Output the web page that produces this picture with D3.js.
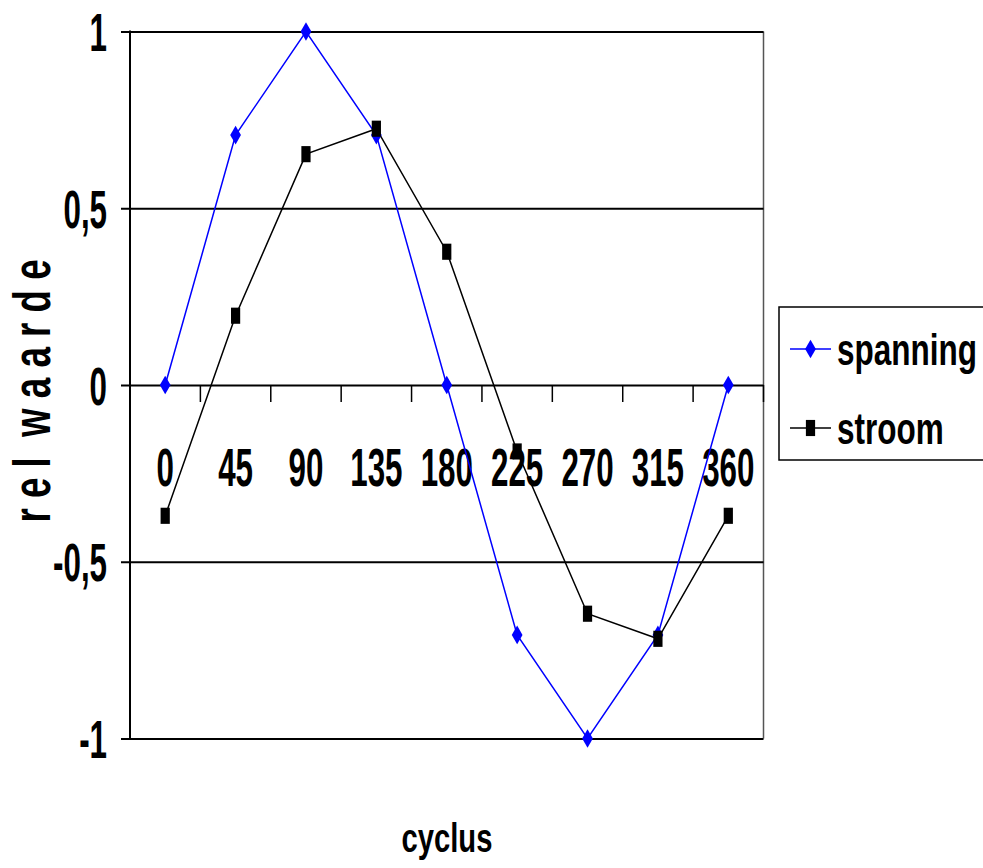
<!DOCTYPE html>
<html>
<head>
<meta charset="utf-8">
<script src="https://cdn.jsdelivr.net/npm/d3@7"></script>
<style>
  html, body { margin: 0; padding: 0; background: #fff; }
  svg { display: block; }
  text { font-family: "Liberation Sans", Arial, sans-serif; font-weight: bold; fill: #000; white-space: pre; }
</style>
</head>
<body>
<svg id="chart" width="983" height="868"></svg>
<script>
// Phase angle categories (degrees over one cycle)
const categories = ["0", "45", "90", "135", "180", "225", "270", "315", "360"];
// Relative voltage (spanning) and current (stroom)
const spanning = [0, 0.707, 1, 0.707, 0, -0.707, -1, -0.707, 0];
const stroom = [-0.37, 0.196, 0.653, 0.725, 0.377, -0.188, -0.647, -0.718, -0.37];
// Value axis ticks and their labels
const yTicks = [-1, -0.5, 0, 0.5, 1];
const yTickLabels = ["-1", "-0,5", "0", "0,5", "1"];
const seriesNames = ["spanning", "stroom"];

const svg = d3.select("#chart");
const plot = { left: 130, right: 763.5, top: 31.5, bottom: 738.5 };

const x = d3.scaleBand().domain(categories).range([plot.left, plot.right]);
const y = d3.scaleLinear().domain([-1, 1]).range([plot.bottom, plot.top]);
const cx = c => x(c) + x.bandwidth() / 2;

// Condensed bold text helper (horizontal squeeze)
function label(g, tx, ty, str, size, sx, anchor, rotate) {
  const grp = g.append("g")
    .attr("transform", `translate(${tx},${ty})` + (rotate ? ` rotate(${rotate})` : "") + ` scale(${sx},1)`);
  grp.append("text")
    .attr("text-anchor", anchor)
    .attr("font-size", size)
    .text(str);
  return grp;
}

// Plot frame: thin right border
svg.append("line")
  .attr("x1", plot.right).attr("x2", plot.right)
  .attr("y1", plot.top).attr("y2", plot.bottom)
  .attr("stroke", "#555").attr("stroke-width", 1.5);

// Horizontal gridlines with left tick marks
const yAxis = d3.axisLeft(y).tickValues(yTicks).tickSize(-(plot.right - plot.left)).tickFormat("");
const yg = svg.append("g").attr("transform", `translate(${plot.left},0)`).call(yAxis);
yg.select(".domain").remove();
yg.selectAll(".tick line").attr("stroke", "#000").attr("stroke-width", 2).attr("x1", -9);

// Value axis line
svg.append("line")
  .attr("x1", plot.left).attr("x2", plot.left)
  .attr("y1", plot.top - 1).attr("y2", plot.bottom + 1)
  .attr("stroke", "#000").attr("stroke-width", 2);

// Category axis at zero with tick marks between categories
const boundaries = categories.map(c => x(c)).concat([plot.right]);
svg.append("g").selectAll("line").data(boundaries.slice(1)).join("line")
  .attr("x1", d => d).attr("x2", d => d)
  .attr("y1", y(0)).attr("y2", y(0) + 17)
  .attr("stroke", "#000").attr("stroke-width", 1.5);

// Value tick labels
yTicks.forEach((v, i) => {
  label(svg, 107, y(v) + 19.5, yTickLabels[i], 54, 0.58, "end");
});

// Category labels
categories.forEach(c => {
  label(svg, cx(c), 486, c, 54, 0.58, "middle");
});

// Axis titles
label(svg, 447, 852, "cyclus", 40, 0.73, "middle");
label(svg, 50, 391, "r e l  w a a r d e", 51, 0.72, "middle", -90);

// Series
const line = d3.line().x((d, i) => cx(categories[i])).y(d => y(d));
const series = [
  { name: seriesNames[0], values: spanning, color: "#0000ff", symbol: d3.symbolDiamond, size: 100, sy: 1 },
  { name: seriesNames[1], values: stroom, color: "#000000", symbol: d3.symbolSquare, size: 85, sy: 1.75 }
];

series.forEach(s => {
  svg.append("path")
    .attr("d", line(s.values))
    .attr("fill", "none")
    .attr("stroke", s.color)
    .attr("stroke-width", 1.5);
});
series.forEach(s => {
  svg.append("g").selectAll("path").data(s.values).join("path")
    .attr("d", d3.symbol(s.symbol, s.size)())
    .attr("transform", (d, i) => `translate(${cx(categories[i])},${y(d)}) scale(1,${s.sy})`)
    .attr("fill", s.color);
});

// Legend
const lg = svg.append("g");
lg.append("rect")
  .attr("x", 779).attr("y", 307).attr("width", 230).attr("height", 153)
  .attr("fill", "#fff").attr("stroke", "#000").attr("stroke-width", 1.5);
const legendRows = [349, 428];
series.forEach((s, i) => {
  const ly = legendRows[i];
  lg.append("line").attr("x1", 790).attr("x2", 831).attr("y1", ly).attr("y2", ly)
    .attr("stroke", s.color).attr("stroke-width", 1.5);
  lg.append("path")
    .attr("d", d3.symbol(s.symbol, s.size)())
    .attr("transform", `translate(810.5,${ly}) scale(1,${s.sy})`)
    .attr("fill", s.color);
  label(lg, 837, ly + 16, s.name, 45, 0.7, "start");
});
</script>
</body>
</html>
